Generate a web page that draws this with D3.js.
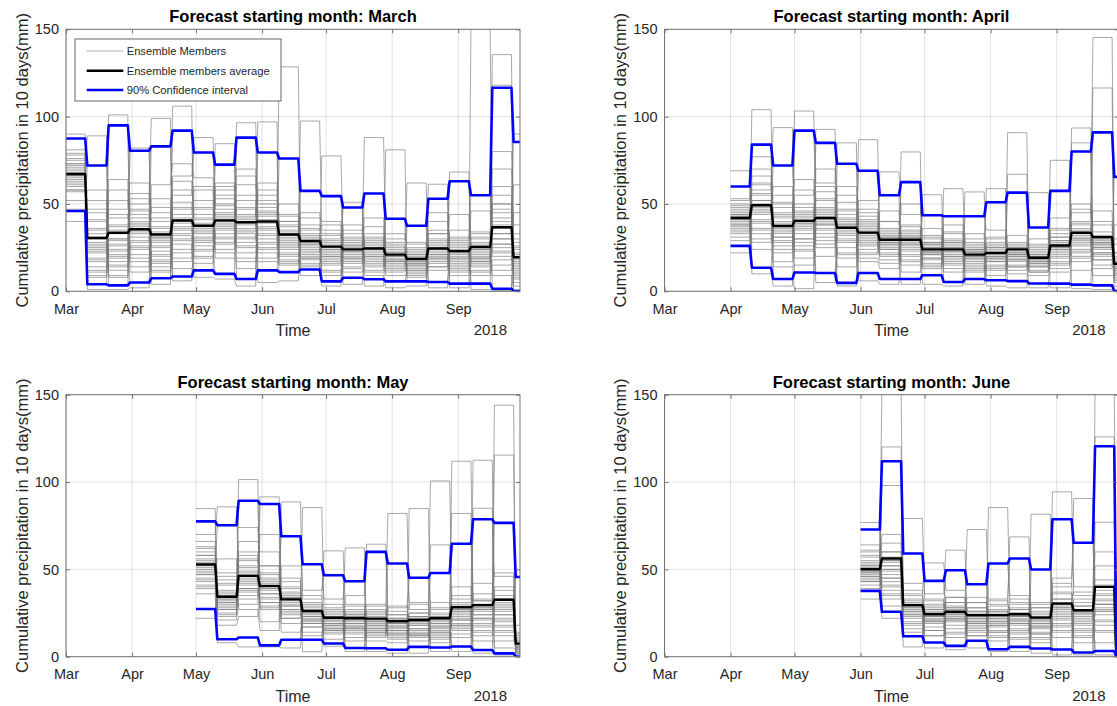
<!DOCTYPE html>
<html>
<head>
<meta charset="utf-8">
<script src="https://cdn.jsdelivr.net/npm/d3@7"></script>
<style>
  html, body { margin: 0; padding: 0; background: #ffffff; }
  svg { display: block; }
</style>
</head>
<body>
<svg id="chart" width="1117" height="706"></svg>
<script>
// ---------- Shared axis values ----------
const yTickValues = [0, 50, 100, 150];
const yLabelText = "Cumulative precipitation in 10 days(mm)";
const legendLabels = ["Ensemble Members", "Ensemble members average", "90% Confidence interval"];

// ---------- March forecast (10-day totals, last entry = partial period) ----------
const marchUpper = [87.5, 72, 95, 80.5, 83, 92, 79.5, 72.5, 88, 79.5, 76, 57.5, 54.5, 48, 56, 41.5, 37.5, 53, 63, 55, 116.5, 85.5];
const marchMean  = [67, 30.5, 33.5, 35.5, 32.5, 40.5, 37.5, 40.5, 39.5, 40, 32.5, 28.8, 25.6, 24, 24.5, 21, 18.5, 24.5, 23, 25.4, 36.7, 19.5];
const marchLower = [46, 4, 3.4, 5, 7.5, 8.5, 12, 10, 7, 12, 11, 12.5, 5.7, 7.8, 6.9, 5.7, 5.7, 5.3, 4.4, 4.4, 1.5, 0];
// one inner array per 10-day period, one entry per ensemble member
const marchMembers = [
  [72, 58, 90, 64, 47, 75, 68, 81, 61, 70, 58, 87.5, 66, 73, 40, 63, 78, 69, 62, 46, 65, 71, 57, 76, 68, 52, 73, 60, 67, 79],
  [22, 45, 8, 31, 72, 14, 27, 4, 36, 19, 52, 11, 89, 25, 1, 40, 17, 33, 24, 58, 28, 18, 35, 12, 41, 23, 30, 9, 47, 26],
  [38, 12, 26, 95, 3.4, 47, 21, 30, 9, 58, 17, 101, 35, 24, 1, 42, 15, 29, 64, 20, 30, 19, 44, 27, 8, 37, 52, 23, 33, 14],
  [44, 28, 80.5, 19, 37, 62, 5, 33, 50, 24, 82, 14, 40, 31, 2, 56, 26, 47, 11, 39, 34, 42, 21, 29, 53, 17, 38, 46, 25, 35],
  [25, 83, 31, 16, 42, 7.5, 36, 20, 99, 28, 11, 53, 34, 4, 23, 45, 18, 30, 61, 14, 37, 21, 29, 48, 12, 33, 26, 40, 17, 31],
  [48, 19, 106, 37, 8.5, 55, 30, 42, 24, 66, 35, 13, 92, 44, 27, 6, 51, 39, 73, 33, 41, 29, 58, 36, 22, 47, 32, 63, 17, 40],
  [33, 58, 12, 41, 26, 79.5, 36, 20, 47, 88, 29, 16, 38, 52, 8, 31, 44, 23, 65, 35, 39, 30, 48, 24, 34, 60, 19, 42, 28, 37],
  [45, 27, 62, 38, 10, 50, 72.5, 33, 19, 43, 84.5, 36, 55, 24, 7, 41, 30, 58, 47, 39, 42, 35, 49, 28, 53, 22, 44, 37, 60, 31],
  [30, 52, 7, 42, 88, 25, 36, 61, 17, 44, 33, 96.5, 22, 48, 3, 39, 28, 70, 35, 13, 38, 47, 26, 55, 31, 19, 43, 66, 34, 41],
  [37, 24, 46, 97, 12, 33, 55, 41, 28, 79.5, 19, 50, 35, 5, 62, 30, 43, 22, 39, 48, 36, 45, 27, 52, 40, 17, 58, 32, 44, 25],
  [128.5, 40, 18, 26, 31, 11, 22, 35, 76, 15, 28, 40, 20, 6, 33, 24, 44, 17, 29, 38, 27, 34, 21, 43, 30, 16, 37, 25, 50, 32],
  [24, 33, 12.5, 57.5, 20, 27, 16, 97.5, 30, 22, 9, 36, 25, 18, 42, 14, 28, 21, 31, 19, 26, 32, 19, 38, 23, 29, 15, 35, 27, 45],
  [21, 12, 30, 54.5, 18, 26, 5.7, 35, 23, 77.5, 15, 28, 9, 20, 40, 3, 24, 17, 32, 19, 22, 27, 16, 33, 25, 11, 29, 38, 20, 24],
  [27, 18, 48, 22, 33, 7.8, 25, 14, 51, 29, 20, 4, 31, 16, 24, 38, 11, 26, 19, 23, 23, 17, 28, 21, 35, 13, 26, 19, 30, 24],
  [17, 28, 12, 21, 88, 6.9, 25, 33, 15, 19, 56, 23, 9, 30, 3, 26, 14, 37, 20, 18, 22, 27, 16, 31, 24, 11, 29, 20, 42, 25],
  [19, 24, 81, 13, 22, 5.7, 28, 16, 41.5, 11, 20, 26, 2, 17, 30, 9, 21, 14, 18, 23, 20, 15, 25, 18, 33, 12, 22, 27, 17, 21],
  [15, 22, 9, 37.5, 18, 12, 62, 20, 5.7, 16, 25, 14, 3, 19, 28, 11, 17, 21, 13, 8, 17, 23, 12, 19, 27, 15, 21, 10, 16, 24],
  [22, 30, 14, 25, 19, 26, 5.3, 35, 17, 24, 61.3, 12, 28, 21, 2, 33, 16, 53, 40, 20, 23, 18, 29, 25, 14, 33, 21, 27, 45, 19],
  [18, 12, 27, 63, 21, 4.4, 15, 30, 24, 9, 2, 19, 26, 14, 35, 68.3, 22, 17, 28, 11, 44, 25, 16, 29, 22, 13, 31, 19, 20, 23],
  [20, 152, 14, 25, 9, 31, 17, 55, 4.4, 22, 12, 28, 1, 19, 34, 16, 24, 11, 26, 18, 23, 27, 19, 33, 21, 15, 30, 24, 46, 17],
  [30, 22, 12, 45, 135.5, 118, 50, 1.5, 36, 70, 18, 27, 0.5, 40, 9, 33, 55, 15, 25, 50, 33, 27, 42, 20, 60, 38, 30, 47, 23, 80],
  [14, 8, 22, 61, 3, 30, 0, 18, 90, 11, 26, 5, 38, 16, 1, 20, 9, 45, 13, 24, 17, 12, 21, 28, 7, 19, 33, 10, 15, 25]
];

// ---------- April forecast ----------
const aprilUpper = [60, 84, 72, 92, 85, 73, 69, 55, 62.5, 43.5, 43, 43, 51, 56.5, 36.5, 57.5, 80, 91, 65.5];
const aprilMean  = [42, 49.3, 37.4, 40.3, 42, 36.4, 33.6, 29.5, 29.5, 24, 24, 21, 22, 24, 19.2, 26.2, 33.5, 31, 15.8];
const aprilLower = [26, 13.5, 7, 10.8, 10.5, 4.8, 10.5, 7, 7, 9.2, 5.3, 7, 6.3, 5.8, 4.5, 4.4, 3.8, 3.4, 0];
const aprilMembers = [
  [44, 36, 52, 29, 69, 41, 47, 33, 60, 38, 45, 26, 50, 39, 22, 43, 35, 48, 31, 42, 40, 46, 37, 44, 34, 49, 41, 38, 53, 43],
  [55, 30, 84, 47, 13.5, 62, 41, 104, 36, 58, 24, 70, 45, 10, 52, 39, 77, 33, 49, 28, 61, 44, 35, 52, 66, 46, 50, 48, 56, 40],
  [31, 48, 17, 72, 38, 26, 55, 7, 42, 93.7, 22, 35, 60, 3, 44, 29, 40, 14, 51, 33, 34, 45, 31, 37, 36, 43, 28, 39, 50, 24],
  [37, 23, 92, 45, 10.8, 33, 58, 1.5, 41, 28, 103.2, 50, 19, 36, 64, 30, 44, 15, 39, 26, 46, 42, 35, 48, 30, 39, 55, 43, 24, 38],
  [48, 92.7, 62, 10.5, 40, 85, 29, 53, 44, 20, 35, 38, 57, 5, 33, 46, 25, 70, 41, 31, 36, 43, 52, 27, 45, 38, 60, 42, 39, 47],
  [30, 42, 85, 25, 4.8, 38, 51, 19, 36, 73, 28, 46, 14, 34, 60, 3, 40, 22, 32, 44, 21, 37, 33, 55, 39, 35, 41, 29, 38, 47],
  [36, 21, 29, 69, 45, 10.5, 33, 86.8, 26, 40, 17, 31, 52, 6, 38, 24, 28, 43, 19, 35, 47, 33, 32, 37, 27, 41, 30, 34, 22, 39],
  [25, 34, 18, 36, 29, 7, 40, 22, 68.4, 31, 13, 27, 55, 4, 24, 46, 20, 33, 16, 28, 26, 35, 21, 32, 28, 40, 24, 31, 27, 30],
  [32, 20, 62.5, 26, 37, 7, 29, 15, 44, 23, 79.8, 30, 11, 34, 4, 27, 50, 18, 24, 31, 38, 25, 31, 17, 35, 27, 28, 33, 21, 29],
  [22, 28, 16, 43.5, 25, 9.2, 31, 19, 55.3, 24, 13, 27, 36, 4, 21, 30, 18, 26, 14, 23, 15, 28, 22, 23, 27, 19, 25, 32, 21, 24],
  [26, 19, 34, 5.3, 23, 43, 15, 28, 24, 21, 30, 11, 25, 3, 38, 17, 58.8, 20, 29, 13, 22, 27, 18, 25, 33, 20, 24, 16, 28, 23],
  [18, 24, 7, 30, 21, 20, 14, 26, 19, 56.9, 11, 23, 16, 33, 4, 43, 27, 15, 22, 12, 22, 28, 19, 13, 23, 21, 25, 20, 24, 17],
  [20, 13, 28, 51, 17, 24, 6.3, 31, 22, 9, 58.8, 19, 26, 3, 15, 35, 21, 12, 25, 18, 22, 14, 27, 20, 21, 25, 17, 23, 30, 19],
  [19, 27, 90.8, 14, 22, 5.8, 24, 17, 56.5, 24, 10, 21, 67, 2, 18, 21, 12, 25, 15, 20, 21, 22, 26, 18, 23, 32, 20, 25, 14, 28],
  [17, 24, 12, 36.5, 20, 4.5, 27, 15, 19, 56.5, 9, 22, 14, 30, 2, 18, 25, 11, 21, 16, 14, 19, 26, 16, 20, 11, 23, 17, 18, 21],
  [23, 31, 15, 2, 26, 4.4, 36, 19, 75, 28, 11, 24, 42, 57.5, 21, 33, 17, 29, 13, 25, 22, 26, 16, 31, 24, 25, 29, 20, 27, 35],
  [28, 40, 85, 19, 33, 3.8, 45, 24, 30, 93.5, 12, 36, 50, 1.5, 26, 38, 17, 80, 22, 31, 39, 30, 29, 35, 23, 32, 47, 27, 34, 20],
  [26, 116.4, 18, 25, 9, 30, 145.3, 22, 3.4, 29, 13, 28, 24, 1, 40, 20, 22, 15, 91, 27, 34, 21, 30, 46, 25, 32, 18, 38, 27, 28],
  [12, 5, 20, 65.5, 9, 0, 16, 27, 3, 14, 38, 7, 18, 1, 11, 22, 6, 30, 10, 13, 22, 12, 19, 8, 16, 13, 14, 17, 10, 15]
];

// ---------- May forecast ----------
const mayUpper = [77.5, 75.3, 89.3, 87.4, 69, 52.9, 46.6, 43.2, 60, 53.4, 45.2, 47.9, 64.7, 78.7, 76.6, 45.6];
const mayMean  = [52.8, 34.3, 46.3, 40.4, 32.8, 26.1, 22.3, 22, 21.8, 20.3, 21, 22, 28.3, 29.5, 32.6, 7.5];
const mayLower = [27.3, 10, 11, 6.5, 9.7, 9.7, 7.6, 5, 4.8, 4, 5.6, 5.3, 5.8, 3.8, 1.9, 0];
const mayMembers = [
  [55, 41, 63, 48, 77.5, 36, 58, 50, 27.3, 70, 45, 53, 84.8, 39, 60, 22, 47, 66, 52, 43, 51, 56, 47, 58, 44, 53, 62, 49, 54, 40],
  [30, 42, 21, 75.3, 35, 10, 48, 27, 33, 85.8, 18, 38, 25, 8, 44, 31, 56, 23, 36, 29, 41, 31, 24, 35, 46, 32, 27, 33, 37, 28],
  [44, 58, 30, 74, 47, 11, 52, 38, 101.4, 41, 23, 66, 49, 5.6, 35, 55, 27, 89.3, 43, 39, 46, 42, 56, 37, 45, 51, 39, 48, 60, 33],
  [38, 27, 87.4, 45, 33, 6.5, 52, 41, 20, 91.5, 36, 60, 29, 5.6, 43, 48, 15, 39, 70, 31, 31, 39, 44, 34, 42, 52, 28, 41, 36, 47],
  [29, 35, 19, 69, 31, 9.7, 40, 24, 88.6, 33, 14, 27, 45, 5, 37, 22, 52, 30, 26, 34, 27, 34, 43, 22, 33, 29, 39, 25, 32, 36],
  [20, 25, 23, 38, 17, 28, 2.8, 21, 33, 12, 26, 85.4, 19, 27, 9.7, 22, 52.9, 14, 30, 24, 17, 26, 23, 31, 19, 25, 29, 21, 27, 35],
  [20, 26, 13, 46.6, 18, 7.6, 23, 16, 60.6, 21, 10, 28, 19, 6, 24, 15, 33, 17, 22, 14, 27, 16, 21, 25, 18, 23, 30, 15, 22, 19],
  [16, 20, 35, 13, 25, 17, 3, 23, 30, 9, 19, 62.3, 15, 27, 5, 21, 43.2, 11, 24, 18, 24, 17, 22, 29, 14, 23, 19, 26, 16, 21],
  [16, 22, 60, 12, 19, 4.8, 25, 14, 29, 20, 64.4, 9, 23, 3, 17, 27, 11, 21, 18, 15, 30, 14, 21, 18, 26, 13, 20, 24, 16, 22],
  [17, 13, 24, 53.4, 19, 4, 21, 10, 82, 15, 26, 8, 18, 2, 22, 12, 28, 16, 20, 14, 17, 24, 11, 19, 22, 15, 21, 29, 13, 20],
  [11, 21, 15, 31, 13, 23, 2, 18, 27, 9, 20, 84.8, 14, 22, 5.6, 16, 45.2, 12, 25, 19, 20, 23, 16, 22, 30, 13, 21, 18, 25, 12],
  [18, 23, 11, 47.9, 15, 5.3, 21, 64, 100.6, 17, 8, 25, 14, 3, 20, 12, 28, 16, 19, 10, 23, 31, 14, 22, 19, 27, 13, 21, 24, 17],
  [17, 25, 22, 82, 13, 27, 3, 19, 33, 11, 26, 111.9, 18, 28, 5.8, 21, 64.7, 15, 30, 24, 27, 23, 35, 16, 26, 31, 21, 29, 40, 18],
  [78.7, 33, 14, 26, 22, 3.8, 30, 19, 112.5, 28, 9, 29, 24, 2, 85, 17, 32, 21, 27, 12, 15, 27, 32, 22, 30, 42, 18, 28, 24, 36],
  [24, 115.4, 12, 30, 5, 38, 144, 18, 1.9, 27, 9, 33, 21, 1, 46, 15, 28, 14, 76.6, 22, 24, 31, 48, 20, 33, 26, 40, 17, 29, 35],
  [5, 2, 9, 45.6, 4, 0, 7, 12, 1, 6, 18, 3, 8, 0.5, 5, 10, 2, 14, 4, 6, 3, 9, 5, 13, 2, 6, 8, 4, 7, 11]
];

// ---------- June forecast ----------
const juneUpper = [72.8, 111.9, 59.1, 43.4, 49.5, 41.5, 53.4, 56.2, 49.9, 78.7, 65.2, 120.5, 2];
const juneMean  = [50.1, 56.2, 29.5, 24.3, 25.7, 23.8, 23.8, 24.3, 22.4, 30.4, 26.6, 40, 0.8];
const juneLower = [37.7, 25.7, 11.7, 8.1, 6.2, 9.1, 4.3, 5.6, 4.7, 4.1, 2.4, 3.3, 0];
const juneMembers = [
  [52, 44, 60, 39, 72.8, 48, 55, 41, 50, 37.7, 64, 46, 76.8, 43, 53, 33, 49, 58, 45, 51, 49, 52, 46, 54, 43, 50, 57, 47, 61, 48],
  [50, 120.1, 38, 55, 25.7, 45, 155, 54, 33, 60, 41, 50, 22, 47, 98, 36, 52, 29, 111.9, 43, 57, 70, 40, 55, 49, 65, 35, 52, 60, 45],
  [27, 33, 18, 59.1, 25, 11.7, 31, 22, 79.1, 29, 14, 36, 24, 5.6, 28, 20, 42, 26, 30, 23, 29, 26, 35, 16, 28, 32, 24, 30, 38, 19],
  [20, 26, 23, 36, 17, 27, 5, 21, 33, 12, 25, 53.7, 19, 30, 8.1, 24, 43.4, 15, 28, 22, 12, 23, 27, 20, 25, 32, 15, 24, 21, 29],
  [6.2, 31, 20, 61, 27, 11, 34, 22, 4, 28, 18, 38, 24, 26, 21, 23, 29, 14, 49.5, 25, 21, 26, 34, 16, 25, 22, 31, 13, 24, 28],
  [20, 5, 25, 16, 34, 22, 19, 17, 21, 26, 14, 41.5, 23, 9.1, 28, 18, 72.8, 24, 12, 31, 15, 23, 20, 28, 12, 22, 26, 19, 24, 31],
  [20, 26, 12, 53.4, 22, 4.3, 27, 17, 85.4, 24, 9, 30, 19, 3, 25, 15, 33, 21, 18, 14, 29, 11, 22, 26, 18, 24, 32, 14, 23, 20],
  [15, 19, 22, 35, 16, 25, 3, 20, 31, 10, 24, 68.6, 18, 28, 5.6, 23, 56.2, 13, 27, 21, 27, 19, 25, 33, 14, 24, 21, 30, 11, 23],
  [26, 16, 81.6, 22, 8, 28, 18, 2, 23, 13, 30, 20, 17, 14, 19, 24, 11, 49.9, 21, 4.7, 31, 13, 22, 19, 28, 10, 21, 25, 17, 23],
  [26, 33, 15, 78.7, 28, 4.1, 36, 21, 94.4, 30, 11, 40, 24, 1, 31, 18, 45, 27, 23, 19, 25, 37, 14, 28, 33, 22, 31, 42, 17, 29],
  [16, 20, 24, 40, 15, 27, 1, 21, 35, 8, 26, 90.6, 18, 31, 2.4, 25, 65.2, 12, 29, 23, 25, 29, 19, 27, 37, 14, 26, 22, 33, 11],
  [26, 125.8, 18, 30, 8, 40, 155, 27, 3.3, 28, 14, 36, 24, 1, 77, 30, 32, 21, 120.5, 33, 41, 60, 20, 38, 30, 52, 15, 35, 44, 26],
  [0.5, 1, 0, 2, 0.5, 0, 1.5, 0.5, 3, 0, 1, 0.5, 0, 0, 2, 0.5, 1, 0, 0.5, 1, 0.5, 1, 0, 1.5, 0.5, 0, 1, 0.5, 2, 0]
];

// ---------- Layout ----------
const DAY = 864e5;
const xStart = new Date(Date.UTC(2018, 2, 1));
const xEnd = new Date(Date.UTC(2018, 8, 30));
const monthTicks = d3.utcMonths(xStart, new Date(xEnd.getTime() + 1));
const PW = 454, PH = 262;
const FONT = "'Liberation Sans', Arial, Helvetica, sans-serif";
const TEXT = "#262626";
const AXIS = "#737373";

const panels = [
  { title: "Forecast starting month: March", start: Date.UTC(2018, 2, 1),
    upper: marchUpper, mean: marchMean, lower: marchLower, members: marchMembers, x0: 66, y0: 29.3, legend: true },
  { title: "Forecast starting month: April", start: Date.UTC(2018, 3, 1),
    upper: aprilUpper, mean: aprilMean, lower: aprilLower, members: aprilMembers, x0: 664.5, y0: 29.3 },
  { title: "Forecast starting month: May", start: Date.UTC(2018, 4, 1),
    upper: mayUpper, mean: mayMean, lower: mayLower, members: mayMembers, x0: 66, y0: 394.7 },
  { title: "Forecast starting month: June", start: Date.UTC(2018, 5, 1),
    upper: juneUpper, mean: juneMean, lower: juneLower, members: juneMembers, x0: 664.5, y0: 394.7 }
];

// Each 10-day total is held flat over its period; the last (partial) period runs to the axis end.
function stepPoints(startMs, values) {
  const pts = [];
  values.forEach((v, k) => {
    const t0 = startMs + 10 * k * DAY;
    const t1 = k === values.length - 1 ? xEnd.getTime() : t0 + 9 * DAY;
    pts.push([new Date(t0), v], [new Date(t1), v]);
  });
  return pts;
}

const svg = d3.select("#chart");
const defs = svg.append("defs");

panels.forEach((p, i) => {
  const x = d3.scaleUtc().domain([xStart, xEnd]).range([p.x0, p.x0 + PW]);
  const y = d3.scaleLinear().domain([0, 150]).range([p.y0 + PH, p.y0]);
  const g = svg.append("g");

  // grid
  g.append("g").selectAll("line").data(monthTicks).join("line")
    .attr("x1", d => x(d)).attr("x2", d => x(d))
    .attr("y1", p.y0).attr("y2", p.y0 + PH)
    .attr("stroke", "#262626").attr("stroke-opacity", 0.13).attr("stroke-width", 1);
  g.append("g").selectAll("line").data(yTickValues).join("line")
    .attr("x1", p.x0).attr("x2", p.x0 + PW)
    .attr("y1", d => y(d)).attr("y2", d => y(d))
    .attr("stroke", "#262626").attr("stroke-opacity", 0.13).attr("stroke-width", 1);

  // data, clipped to the axes box
  const clipId = "plot-clip-" + i;
  defs.append("clipPath").attr("id", clipId).append("rect")
    .attr("x", p.x0).attr("y", p.y0).attr("width", PW).attr("height", PH);
  const plot = g.append("g").attr("clip-path", `url(#${clipId})`);
  const line = d3.line().defined(d => d[1] != null).x(d => x(d[0])).y(d => y(d[1]));

  const memberCount = p.members[0].length;
  const memberSeries = d3.range(memberCount).map(m => p.members.map(col => col[m]));
  plot.append("g").selectAll("path").data(memberSeries).join("path")
    .attr("d", v => line(stepPoints(p.start, v)))
    .attr("fill", "none").attr("stroke", "#7a7a7a").attr("stroke-width", 0.65)
    .attr("stroke-linejoin", "round");

  plot.append("path").attr("d", line(stepPoints(p.start, p.mean)))
    .attr("fill", "none").attr("stroke", "#000000").attr("stroke-width", 2.4)
    .attr("stroke-linejoin", "round");
  [p.upper, p.lower].forEach(series => {
    plot.append("path").attr("d", line(stepPoints(p.start, series)))
      .attr("fill", "none").attr("stroke", "#0000ff").attr("stroke-width", 2.6)
      .attr("stroke-linejoin", "round");
  });

  // axes (ticks point inward on all four sides)
  const styleAxis = sel => {
    sel.select(".domain").remove();
    sel.selectAll(".tick line").attr("stroke", AXIS);
    sel.selectAll(".tick text").attr("fill", TEXT).attr("font-size", "14.5px").attr("font-family", FONT);
  };
  g.append("g").attr("transform", `translate(0,${p.y0 + PH})`)
    .call(d3.axisBottom(x).tickValues(monthTicks).tickFormat(d3.utcFormat("%b"))
      .tickSizeInner(-4).tickSizeOuter(0).tickPadding(12))
    .call(styleAxis);
  g.append("g").attr("transform", `translate(0,${p.y0})`)
    .call(d3.axisTop(x).tickValues(monthTicks).tickFormat("").tickSizeInner(-4).tickSizeOuter(0))
    .call(styleAxis);
  g.append("g").attr("transform", `translate(${p.x0},0)`)
    .call(d3.axisLeft(y).tickValues(yTickValues).tickSizeInner(-4).tickSizeOuter(0).tickPadding(7))
    .call(styleAxis);
  g.append("g").attr("transform", `translate(${p.x0 + PW},0)`)
    .call(d3.axisRight(y).tickValues(yTickValues).tickFormat("").tickSizeInner(-4).tickSizeOuter(0))
    .call(styleAxis);

  g.append("rect").attr("x", p.x0).attr("y", p.y0).attr("width", PW).attr("height", PH)
    .attr("fill", "none").attr("stroke", AXIS).attr("stroke-width", 1);

  // text
  g.append("text").attr("x", p.x0 + PW / 2).attr("y", p.y0 - 7)
    .attr("text-anchor", "middle").attr("font-family", FONT).attr("font-weight", "bold")
    .attr("font-size", "16.5px").attr("fill", "#000").text(p.title);
  g.append("text").attr("x", p.x0 + PW / 2).attr("y", p.y0 + PH + 45)
    .attr("text-anchor", "middle").attr("font-family", FONT)
    .attr("font-size", "16px").attr("fill", TEXT).text("Time");
  g.append("text").attr("x", p.x0 + PW - 13).attr("y", p.y0 + PH + 44)
    .attr("text-anchor", "end").attr("font-family", FONT)
    .attr("font-size", "15px").attr("fill", TEXT).text(d3.utcFormat("%Y")(xStart));
  g.append("text")
    .attr("transform", `translate(${p.x0 - 38.5},${p.y0 + PH / 2}) rotate(-90)`)
    .attr("text-anchor", "middle").attr("font-family", FONT)
    .attr("font-size", "16.5px").attr("fill", TEXT).text(yLabelText);

  // legend
  if (p.legend) {
    const lg = g.append("g");
    lg.append("rect").attr("x", 75).attr("y", 39).attr("width", 206).attr("height", 62)
      .attr("fill", "#fff").attr("stroke", "#262626").attr("stroke-width", 0.7);
    const styles = [
      { stroke: "#9a9a9a", width: 0.8 },
      { stroke: "#000000", width: 2.4 },
      { stroke: "#0000ff", width: 2.6 }
    ];
    const rowY = [51, 70.7, 90];
    legendLabels.forEach((label, j) => {
      lg.append("line").attr("x1", 86.7).attr("x2", 123.3).attr("y1", rowY[j]).attr("y2", rowY[j])
        .attr("stroke", styles[j].stroke).attr("stroke-width", styles[j].width);
      lg.append("text").attr("x", 126.7).attr("y", rowY[j]).attr("dy", "0.35em")
        .attr("font-family", FONT).attr("font-size", "11.2px").attr("fill", TEXT).text(label);
    });
  }
});
</script>
</body>
</html>
